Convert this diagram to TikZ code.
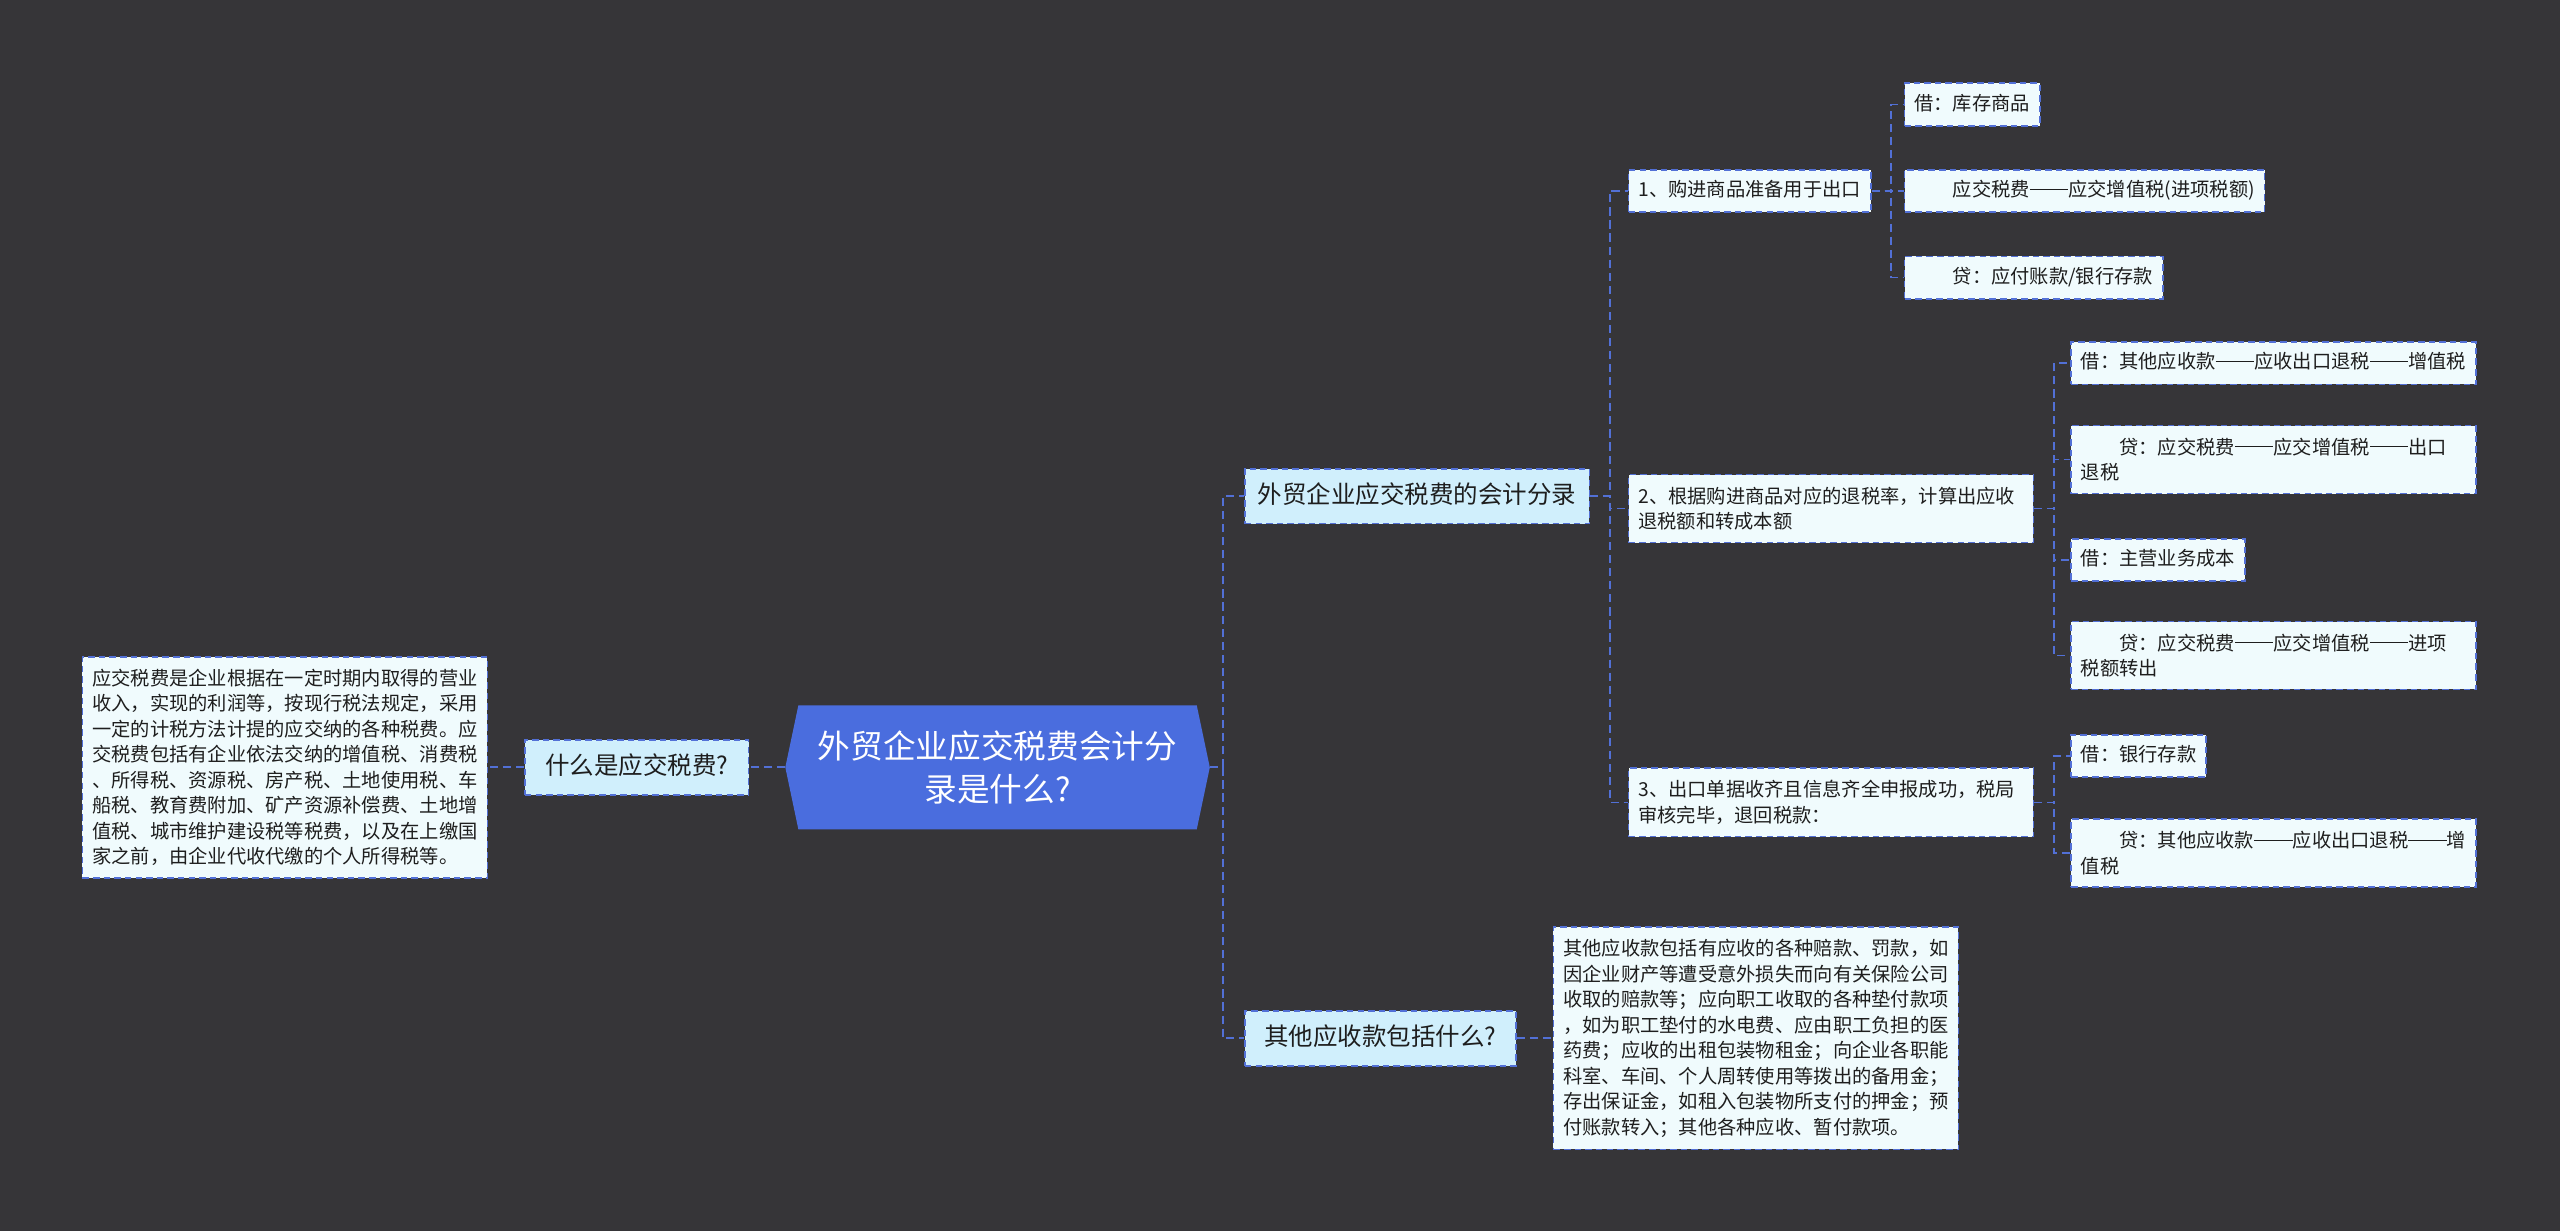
\documentclass[tikz,border=0pt]{standalone}
\usepackage{fontspec}
\setmainfont{Noto Sans CJK SC}
\usepackage{tikz}
\usetikzlibrary{positioning}
\definecolor{bgdark}{RGB}{54,53,56}
\definecolor{rootblue}{RGB}{74,109,222}
\definecolor{edgeblue}{RGB}{82,112,214}
\definecolor{topfill}{RGB}{208,239,252}
\definecolor{leaffill}{RGB}{240,251,253}
\definecolor{inktext}{RGB}{30,30,30}
\newcommand{\ldash}{\rule[0.36em]{2em}{0.055em}}

\begin{document}
\begin{tikzpicture}[x=1pt,y=-1pt,
    link/.style={edgeblue,line width=1.1pt,dash pattern=on 5pt off 3pt},
    box/.style={draw=edgeblue,line width=1pt,dash pattern=on 4pt off 2.5pt,text=inktext},
    topic/.style={box,fill=topfill,font=\fontsize{15}{19}\selectfont,inner xsep=8pt,inner ysep=9pt,text height=12pt,text depth=3.5pt},
    leaf/.style={box,fill=leaffill,font=\fontsize{11.8}{15.6}\selectfont,inner xsep=6pt,inner ysep=7pt,text height=9.5pt,text depth=2.5pt,anchor=west},
    para/.style={box,fill=leaffill,font=\fontsize{11.8}{15.6}\selectfont,inner xsep=6pt,inner ysep=7.5pt,text width=236pt,align=left}]
    \useasboundingbox (0,0) rectangle (1568,754);
    \fill[bgdark] (0,0) rectangle (1568,754);

    \fill[rootblue] (481,470) -- (489,432) -- (733,432) -- (741,470) -- (733,508) -- (489,508) -- cycle;
    \node[text=white,font=\fontsize{20}{26}\selectfont,align=center] (root) at (611,470) {外贸企业应交税费会计分\\录是什么?};
    \coordinate (rootl) at (481,470);
    \coordinate (rootr) at (741,470);

    \node[topic,minimum width=137pt,anchor=east] (what) at (459,470) {什么是应交税费?};
    \node[para,anchor=east] (whatdef) at (299,470) {应交税费是企业根据在一定时期内取得的营业\\收入，实现的利润等，按现行税法规定，采用\\一定的计税方法计提的应交纳的各种税费。应\\交税费包括有企业依法交纳的增值税、消费税\\、所得税、资源税、房产税、土地使用税、车\\船税、教育费附加、矿产资源补偿费、土地增\\值税、城市维护建设税等税费，以及在上缴国\\家之前，由企业代收代缴的个人所得税等。};

    \node[topic,anchor=west] (acct) at (762,304) {外贸企业应交税费的会计分录};
    \node[topic,minimum width=166pt,anchor=west] (other) at (762,636) {其他应收款包括什么?};
    \node[para,anchor=west] (otherdef) at (951,636) {其他应收款包括有应收的各种赔款、罚款，如\\因企业财产等遭受意外损失而向有关保险公司\\收取的赔款等；应向职工收取的各种垫付款项\\，如为职工垫付的水电费、应由职工负担的医\\药费；应收的出租包装物租金；向企业各职能\\科室、车间、个人周转使用等拨出的备用金；\\存出保证金，如租入包装物所支付的押金；预\\付账款转入；其他各种应收、暂付款项。};

    \node[leaf] (buy) at (997,117) {1、购进商品准备用于出口};
    \node[para,anchor=west] (refund) at (997,311.5) {2、根据购进商品对应的退税率，计算出应收\\退税额和转成本额};
    \node[para,anchor=west] (back) at (997,491.5) {3、出口单据收齐且信息齐全申报成功，税局\\审核完毕，退回税款：};

    \node[leaf] (buy1) at (1166,64) {借：库存商品};
    \node[leaf] (buy2) at (1166,117) {\hspace*{2em}应交税费\ldash 应交增值税(进项税额)};
    \node[leaf] (buy3) at (1166,170) {\hspace*{2em}贷：应付账款/银行存款};

    \node[leaf] (refund1) at (1268,222.5) {借：其他应收款\ldash 应收出口退税\ldash 增值税};
    \node[para,anchor=west] (refund2) at (1268,281.5) {\hspace*{2em}贷：应交税费\ldash 应交增值税\ldash 出口\\退税};
    \node[leaf] (refund3) at (1268,343) {借：主营业务成本};
    \node[para,anchor=west] (refund4) at (1268,401.5) {\hspace*{2em}贷：应交税费\ldash 应交增值税\ldash 进项\\税额转出};

    \node[leaf] (back1) at (1268,463) {借：银行存款};
    \node[para,anchor=west] (back2) at (1268,522.5) {\hspace*{2em}贷：其他应收款\ldash 应收出口退税\ldash 增\\值税};

    \draw[link] (rootl) -- (what.east);
    \draw[link] (what.west) -- (whatdef.east);
    \draw[link] (rootr) -- ++(8,0) |- (acct.west);
    \draw[link] (rootr) -- ++(8,0) |- (other.west);
    \draw[link] (other.east) -- (otherdef.west);
    \foreach \kid in {buy,refund,back}
        \draw[link] (acct.east) -- ++(12,0) |- (\kid.west);
    \foreach \kid in {buy1,buy2,buy3}
        \draw[link] (buy.east) -- ++(12,0) |- (\kid.west);
    \foreach \kid in {refund1,refund2,refund3,refund4}
        \draw[link] (refund.east) -- ++(12,0) |- (\kid.west);
    \foreach \kid in {back1,back2}
        \draw[link] (back.east) -- ++(12,0) |- (\kid.west);
\end{tikzpicture}
\end{document}
